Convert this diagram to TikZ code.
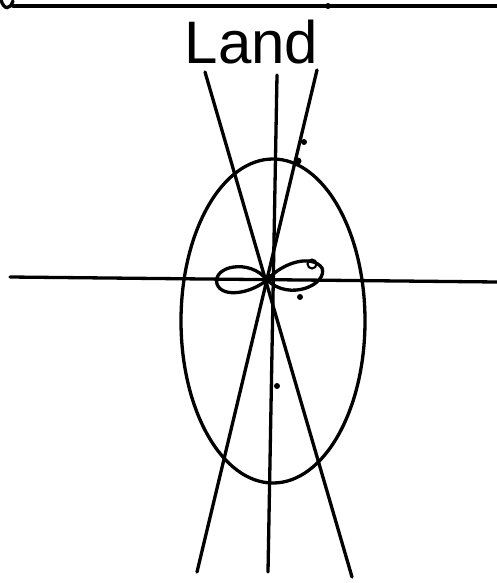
\documentclass[tikz,border=0pt]{standalone}
\usepackage{fontspec}
\setmainfont{Liberation Sans}
\begin{document}
\begin{tikzpicture}[x=1pt,y=-1pt,line width=3.3pt,line cap=round]
\useasboundingbox (0,0) rectangle (497,583);
% top edge and the land label
\draw (13,6) -- (497,6);
\draw (1,0) .. controls (4,10) and (10,10) .. (13,1);
\node[anchor=south west,inner sep=0pt] (land) at (183,66) {\fontsize{60}{60}\selectfont Land};
\fill (328,6) circle (3pt);
% three lines through the centre
\coordinate (c) at (267,280);
\draw (205,72) -- (352,577);
\draw (277,75) -- (268,572);
\draw (317,70) -- (197,572);
% ellipse and horizontal axis
\draw (273,321) ellipse [x radius=92,y radius=162];
\draw (10,277) -- (497,282);
% the two lobes
\draw (c) .. controls (250,258) and (212,266) .. (217,284)
          .. controls (222,298) and (250,294) .. (c);
\draw (c) .. controls (283,262) and (312,254) .. (322,268)
          .. controls (328,284) and (290,302) .. (c);
\draw[line width=2pt] (312,264) circle (4.5pt);
% small dots
\fill (300,297) circle (3pt);
\fill (304,142) circle (3pt);
\fill (277,386) circle (3pt);
\fill (298,161) circle (3.5pt);
\end{tikzpicture}
\end{document}
